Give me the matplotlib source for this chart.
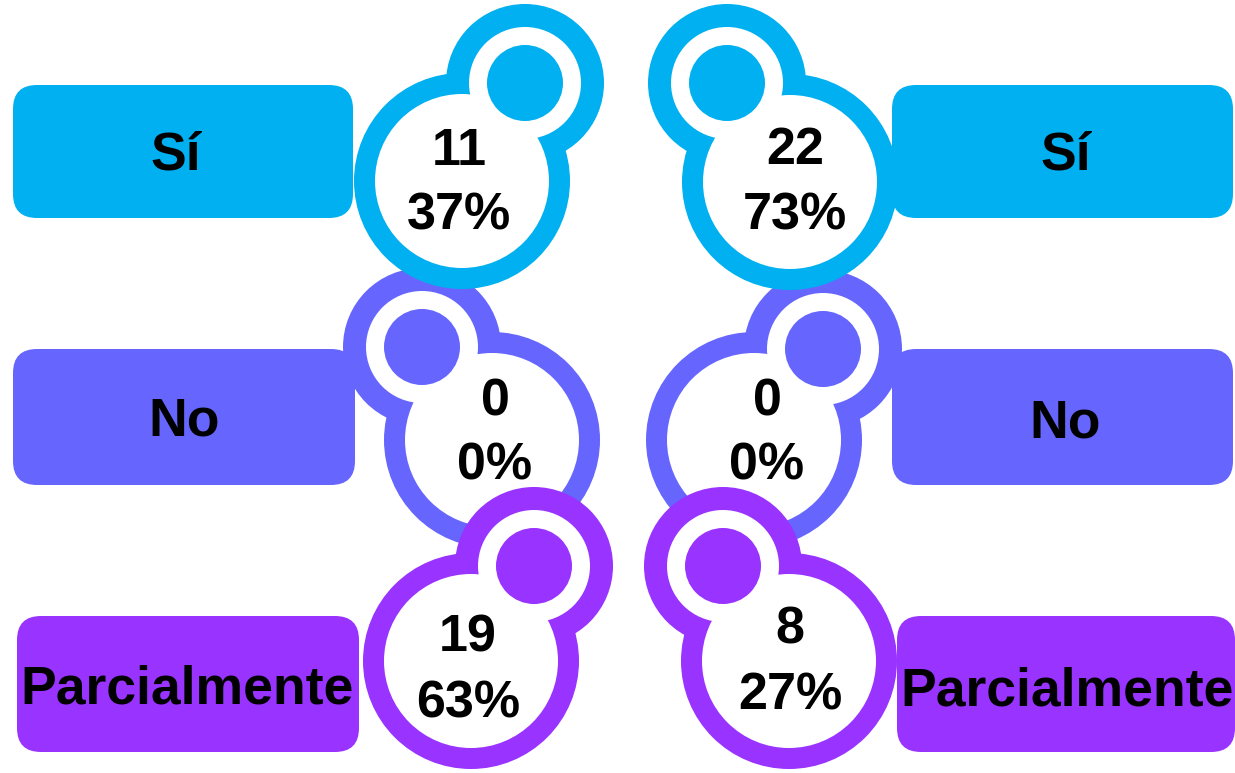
import matplotlib
matplotlib.use("Agg")
import matplotlib.pyplot as plt
from matplotlib.patches import Circle, FancyBboxPatch

# ---- data ----
categories = ["Sí", "No", "Parcialmente"]
left_counts = [11, 0, 19]
left_pcts = [37, 0, 63]
right_counts = [22, 0, 8]
right_pcts = [73, 0, 27]
colors = ["#00B0F0", "#6666FF", "#9933FF"]

# ---- layout (pixel coordinates) ----
left_big = [(462, 181), (492, 440), (471, 661)]
left_small = [(525, 83), (422, 347), (534, 566)]
# (x centre, baseline of count, baseline of percent)
left_text = [(459, 165, 230), (495, 415, 480), (468, 652, 717)]
left_box = [(13, 85, 340, 133), (13, 349, 342, 136), (17, 616, 342, 136)]
left_label = [(176, 169), (184, 435), (187, 704)]

right_big = [(790, 182), (754, 440), (789, 661)]
right_small = [(727, 83), (823, 349), (723, 566)]
right_text = [(795, 164, 229), (767, 415, 480), (790, 644, 710)]
right_box = [(892, 85, 341, 133), (892, 349, 341, 136), (897, 616, 338, 136)]
right_label = [(1066, 169), (1065, 437), (1067, 705)]

R_BIG, R_BIG_IN = 108, 87
R_SM, R_SM_W, R_SM_F = 79, 56, 38

FONT = "Liberation Sans"
FS = 37.5
FS_LABEL = 38.5

fig = plt.figure(figsize=(12.35, 7.73), dpi=100)
ax = fig.add_axes([0, 0, 1, 1])
ax.set_xlim(0, 1235)
ax.set_ylim(773, 0)
ax.axis("off")


def draw_box(box, color, label, pos):
    x, y, w, h = box
    ax.add_patch(FancyBboxPatch((x, y), w, h,
                                boxstyle="round,pad=0,rounding_size=24",
                                fc=color, ec="none", zorder=1))
    ax.text(pos[0], pos[1], label, ha="center", va="baseline",
            fontsize=FS_LABEL, fontweight="bold", family=FONT, color="black",
            zorder=20)


def draw_bubble(big, small, color, z):
    ax.add_patch(Circle(big, R_BIG, fc=color, ec="none", zorder=z))
    ax.add_patch(Circle(small, R_SM, fc=color, ec="none", zorder=z))
    ax.add_patch(Circle(big, R_BIG_IN, fc="white", ec="none", zorder=z + 0.1))
    ax.add_patch(Circle(small, R_SM_W, fc="white", ec="none", zorder=z + 0.1))
    ax.add_patch(Circle(small, R_SM_F, fc=color, ec="none", zorder=z + 0.2))


# draw order: No first, then Sí, then Parcialmente
zbase = {1: 2, 0: 3, 2: 4}

for i in range(3):
    draw_box(left_box[i], colors[i], categories[i], left_label[i])
    draw_box(right_box[i], colors[i], categories[i], right_label[i])

for i in [1, 0, 2]:
    draw_bubble(left_big[i], left_small[i], colors[i], zbase[i])
    draw_bubble(right_big[i], right_small[i], colors[i], zbase[i])

for i in range(3):
    for (tx, b1, b2), c, p in [(left_text[i], left_counts[i], left_pcts[i]),
                               (right_text[i], right_counts[i], right_pcts[i])]:
        ax.text(tx, b1, f"{c}", ha="center", va="baseline", fontsize=FS,
                fontweight="bold", family=FONT, color="black", zorder=20)
        ax.text(tx, b2, f"{p}%", ha="center", va="baseline", fontsize=FS,
                fontweight="bold", family=FONT, color="black", zorder=20)

fig.savefig("out.png", dpi=100)
